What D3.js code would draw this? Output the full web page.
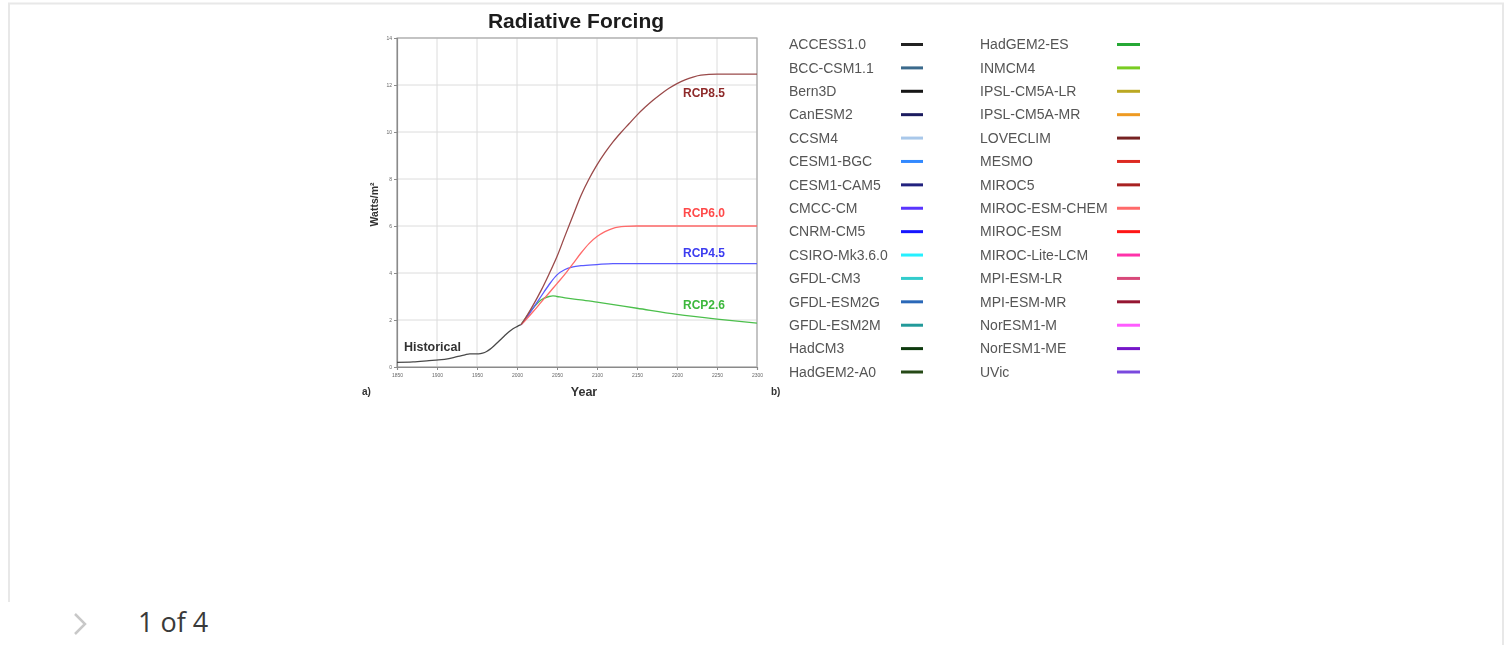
<!DOCTYPE html>
<html>
<head>
<meta charset="utf-8">
<script src="https://cdn.jsdelivr.net/npm/d3@7"></script>
<style>
  html, body { margin: 0; padding: 0; background: #fff; }
  svg { display: block; }
</style>
</head>
<body>
<svg id="page" width="1511" height="645"></svg>
<script>
// Radiative forcing pathways (W/m²), historical record and the four RCP scenarios
const historicalYears  = [1850, 1870, 1890, 1902, 1915, 1925, 1935, 1941, 1952, 1957, 1962, 1966, 1970, 1975, 1980, 1985, 1990, 1995, 2000, 2005];
const historicalValues = [0.20, 0.22, 0.27, 0.30, 0.36, 0.44, 0.52, 0.56, 0.56, 0.59, 0.66, 0.75, 0.86, 1.02, 1.18, 1.35, 1.50, 1.63, 1.72, 1.80];

const rcp26Years  = [2005, 2010, 2020, 2030, 2040, 2045, 2050, 2060, 2080, 2100, 2150, 2200, 2250, 2300];
const rcp26Values = [1.80, 2.05, 2.50, 2.85, 3.00, 3.03, 3.00, 2.94, 2.86, 2.76, 2.50, 2.24, 2.04, 1.87];

const rcp45Years  = [2005, 2010, 2020, 2030, 2040, 2050, 2060, 2070, 2080, 2100, 2120, 2150, 2300];
const rcp45Values = [1.80, 2.00, 2.50, 3.00, 3.50, 3.92, 4.15, 4.26, 4.31, 4.36, 4.40, 4.40, 4.40];

const rcp60Years  = [2005, 2010, 2020, 2030, 2040, 2050, 2060, 2070, 2080, 2090, 2100, 2110, 2120, 2135, 2150, 2300];
const rcp60Values = [1.80, 1.97, 2.35, 2.75, 3.15, 3.55, 3.95, 4.40, 4.85, 5.25, 5.55, 5.76, 5.90, 5.98, 6.00, 6.00];

const rcp85Years  = [2005, 2010, 2020, 2030, 2040, 2050, 2060, 2070, 2080, 2090, 2100, 2110, 2120, 2130, 2140, 2150, 2160, 2170, 2180, 2190, 2200, 2210, 2220, 2230, 2250, 2300];
const rcp85Values = [1.80, 2.05, 2.62, 3.25, 3.95, 4.70, 5.58, 6.45, 7.30, 8.00, 8.60, 9.12, 9.58, 9.98, 10.35, 10.72, 11.05, 11.35, 11.62, 11.86, 12.06, 12.22, 12.34, 12.42, 12.46, 12.46];

const scenarioNames  = ["Historical", "RCP2.6", "RCP4.5", "RCP6.0", "RCP8.5"];
const scenarioColors = ["#4a4a4a", "#4cbf4c", "#5a5aff", "#ff6a6a", "#9a4a4a"];
const labelColors    = ["#333333", "#3cb83c", "#3c3cf0", "#ff4a4a", "#8e2a2a"];

const yearTicks  = [1850, 1900, 1950, 2000, 2050, 2100, 2150, 2200, 2250, 2300];
const forcingTicks = [0, 2, 4, 6, 8, 10, 12, 14];

// Model ensemble legend (panel b)
const modelNames = [
  "ACCESS1.0", "BCC-CSM1.1", "Bern3D", "CanESM2", "CCSM4", "CESM1-BGC", "CESM1-CAM5", "CMCC-CM",
  "CNRM-CM5", "CSIRO-Mk3.6.0", "GFDL-CM3", "GFDL-ESM2G", "GFDL-ESM2M", "HadCM3", "HadGEM2-A0",
  "HadGEM2-ES", "INMCM4", "IPSL-CM5A-LR", "IPSL-CM5A-MR", "LOVECLIM", "MESMO", "MIROC5",
  "MIROC-ESM-CHEM", "MIROC-ESM", "MIROC-Lite-LCM", "MPI-ESM-LR", "MPI-ESM-MR", "NorESM1-M",
  "NorESM1-ME", "UVic"
];
const modelColors = [
  "#222222", "#3a6a8c", "#151515", "#1c1c5e", "#a9c8ea", "#3389ff", "#23237f", "#5a36ff",
  "#1414ff", "#25f0ff", "#33cccc", "#2a68b8", "#249a9a", "#113a11", "#274a12",
  "#26a836", "#79cc22", "#bba822", "#ee9a22", "#762424", "#dd2a22", "#a82222",
  "#ff6a6a", "#ff1414", "#ff33aa", "#d84a7a", "#951530", "#ff5cff",
  "#7414c8", "#7a4ade"
];

const svg = d3.select("#page");
const font = "'Liberation Sans', Arial, sans-serif";

// Soft rendering of the figure panels
const defs = svg.append("defs");
defs.append("filter").attr("id", "soft")
  .attr("x", "-5%").attr("y", "-5%").attr("width", "110%").attr("height", "110%")
  .append("feGaussianBlur").attr("stdDeviation", 0.75);

// Page frame
const frame = svg.append("g").attr("stroke", "#e8e8e8").attr("stroke-width", 2).attr("fill", "none");
frame.append("line").attr("x1", 8).attr("x2", 1504).attr("y1", 3.5).attr("y2", 3.5);
frame.append("line").attr("x1", 9).attr("x2", 9).attr("y1", 3).attr("y2", 602);
frame.append("line").attr("x1", 1503).attr("x2", 1503).attr("y1", 3).attr("y2", 645);

const fig = svg.append("g").attr("filter", "url(#soft)");

// Panel a: forcing time series
const x = d3.scaleLinear().domain([1850, 2300]).range([397, 757]);
const y = d3.scaleLinear().domain([0, 14]).range([367, 38]);

fig.append("g")
  .attr("stroke", "#dcdcdc").attr("stroke-width", 1)
  .selectAll("line.vg").data(yearTicks).join("line")
  .attr("x1", d => x(d)).attr("x2", d => x(d)).attr("y1", y(14)).attr("y2", y(0));
fig.append("g")
  .attr("stroke", "#dcdcdc").attr("stroke-width", 1)
  .selectAll("line.hg").data(forcingTicks).join("line")
  .attr("x1", x(1850)).attr("x2", x(2300)).attr("y1", d => y(d)).attr("y2", d => y(d));

fig.append("rect")
  .attr("x", x(1850)).attr("y", y(14))
  .attr("width", x(2300) - x(1850)).attr("height", y(0) - y(14))
  .attr("fill", "none").attr("stroke", "#a8a8a8").attr("stroke-width", 1.2);

const xAxis = fig.append("g")
  .attr("transform", `translate(0,${y(0)})`)
  .call(d3.axisBottom(x).tickValues(yearTicks).tickFormat(d3.format("d")).tickSize(3).tickPadding(3));
const yAxis = fig.append("g")
  .attr("transform", `translate(${x(1850)},0)`)
  .call(d3.axisLeft(y).tickValues(forcingTicks).tickFormat(d3.format("d")).tickSize(3).tickPadding(2));
[xAxis, yAxis].forEach(a => {
  a.select(".domain").attr("stroke", "#8a8a8a").attr("stroke-width", 1.2);
  a.selectAll(".tick line").attr("stroke", "#8a8a8a");
  a.selectAll(".tick text").attr("fill", "#666").attr("font-size", 5).attr("font-family", font);
});

const line = d3.line().x(d => x(d[0])).y(d => y(d[1])).curve(d3.curveMonotoneX);
const seriesData = [
  d3.zip(historicalYears, historicalValues),
  d3.zip(rcp26Years, rcp26Values),
  d3.zip(rcp45Years, rcp45Values),
  d3.zip(rcp60Years, rcp60Values),
  d3.zip(rcp85Years, rcp85Values)
];
fig.append("g").selectAll("path.series").data(seriesData).join("path")
  .attr("d", line)
  .attr("fill", "none")
  .attr("stroke", (d, i) => scenarioColors[i])
  .attr("stroke-width", 1.3);

// Scenario labels, placed relative to the value each curve starts or settles at
const labelYears  = [1850, 2300, 2300, 2300, 2300];
const labelDx     = [7, -74, -74, -74, -74];
const labelDy     = [-11, -14, -7, -9, 23];
fig.append("g").selectAll("text.scen").data(seriesData).join("text")
  .attr("x", (d, i) => x(labelYears[i]) + labelDx[i])
  .attr("y", (d, i) => y(d[i === 0 ? 0 : d.length - 1][1]) + labelDy[i])
  .attr("fill", (d, i) => labelColors[i])
  .attr("font-family", font).attr("font-weight", "bold")
  .attr("font-size", (d, i) => i === 0 ? 12.5 : 12)
  .text((d, i) => scenarioNames[i]);

fig.append("text")
  .attr("x", 576).attr("y", 28).attr("text-anchor", "middle")
  .attr("font-family", font).attr("font-weight", "bold").attr("font-size", 21).attr("fill", "#1a1a1a")
  .text("Radiative Forcing");

fig.append("text")
  .attr("transform", `translate(378,${(y(0) + y(14)) / 2 + 2}) rotate(-90)`)
  .attr("text-anchor", "middle")
  .attr("font-family", font).attr("font-weight", "bold").attr("font-size", 10.5).attr("fill", "#333")
  .text("Watts/m²");

fig.append("text")
  .attr("x", 584).attr("y", 396).attr("text-anchor", "middle")
  .attr("font-family", font).attr("font-weight", "bold").attr("font-size", 12.5).attr("fill", "#333")
  .text("Year");

fig.append("text").attr("x", 362).attr("y", 395)
  .attr("font-family", font).attr("font-weight", "bold").attr("font-size", 10).attr("fill", "#333").text("a)");
fig.append("text").attr("x", 771).attr("y", 395)
  .attr("font-family", font).attr("font-weight", "bold").attr("font-size", 10).attr("fill", "#333").text("b)");

// Panel b: legend in two columns of fifteen
const rowY = d3.scaleLinear().domain([0, 14]).range([44.5, 372]);
const legend = fig.append("g").selectAll("g.item").data(modelNames).join("g")
  .attr("transform", (d, i) => {
    const col = Math.floor(i / 15), row = i % 15;
    return `translate(${col === 0 ? 789 : 980},${rowY(row)})`;
  });
legend.append("text")
  .attr("y", 4.8)
  .attr("font-family", font).attr("font-size", 14).attr("fill", "#555")
  .text(d => d);
legend.append("line")
  .attr("x1", (d, i) => i < 15 ? 112 : 137)
  .attr("x2", (d, i) => i < 15 ? 134 : 160)
  .attr("stroke", (d, i) => modelColors[i])
  .attr("stroke-width", 3);

// Slide pager
svg.append("path")
  .attr("d", "M75,614 L85,624 L75,634")
  .attr("fill", "none").attr("stroke", "#c8c8c8").attr("stroke-width", 2.5);
svg.append("text")
  .attr("x", 138).attr("y", 632)
  .attr("font-family", "'Open Sans', 'Noto Sans', sans-serif").attr("font-size", 27).attr("fill", "#3a3a3a")
  .text("1 of 4");
</script>
</body>
</html>
